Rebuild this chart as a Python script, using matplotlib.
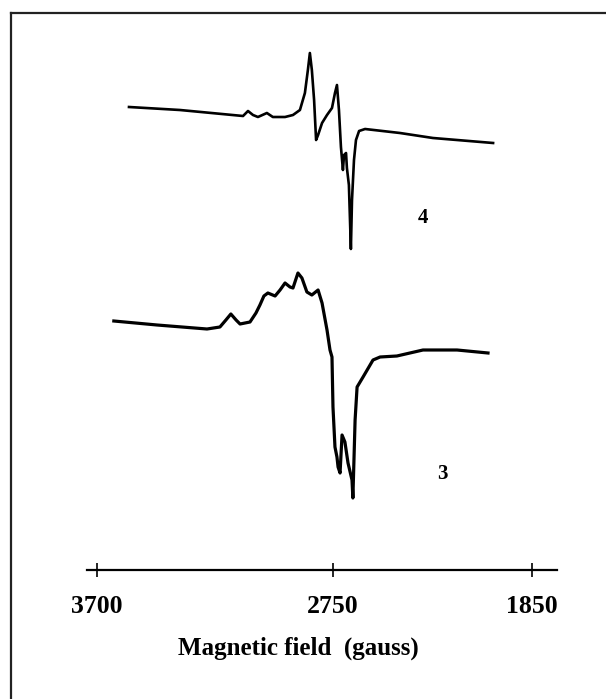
import numpy as np
import matplotlib
matplotlib.use("Agg")
import matplotlib.pyplot as plt
from matplotlib.lines import Line2D

# field ticks and their measured spacing on the (non-uniform) printed axis
tick_vals = [3700, 2750, 1850]
tick_pos = [0.0, 236.0, 435.0]

# sample 4 (upper trace), field in gauss, signal in arbitrary units
field_4 = [3571, 3366, 3112, 3092, 3072, 3052, 3016, 2992, 2943, 2911, 2883,
           2863, 2851, 2843, 2835, 2826, 2818, 2810, 2794, 2774, 2754, 2741,
           2732, 2723, 2714, 2705, 2700, 2691, 2687, 2678, 2669, 2664, 2655,
           2646, 2632, 2605, 2447, 2298, 2026]
signal_4 = [13, 10, 4, 9, 5, 3, 7, 3, 3, 5, 10,
            27, 50, 67, 50, 20, -20, -15, -3, 5, 12, 27,
            35, 10, -27, -50, -35, -33, -48, -65, -129, -80, -40,
            -20, -11, -9, -13, -18, -23]

# sample 3 (lower trace)
field_3 = [3632, 3458, 3257, 3205, 3181, 3161, 3140, 3124, 3084, 3060, 3044,
           3028, 3012, 2983, 2963, 2943, 2923, 2911, 2891, 2875, 2855, 2835,
           2810, 2794, 2774, 2762, 2754, 2750, 2741, 2732, 2727, 2718, 2709,
           2696, 2682, 2664, 2660, 2650, 2641, 2614, 2569, 2537, 2461, 2343,
           2189, 2049]
signal_3 = [9, 5, 1, 3, 10, 16, 10, 6, 8, 17, 25,
            34, 37, 34, 40, 47, 43, 42, 57, 52, 38, 35,
            40, 27, 0, -20, -27, -77, -117, -127, -137, -143, -105,
            -112, -133, -150, -168, -90, -57, -47, -30, -27, -26, -20,
            -20, -23]

offset_4 = 450
offset_3 = 240


def fwd(g):
    g = np.asarray(g, dtype=float)
    left = tick_pos[0] + (tick_vals[0] - g) * (tick_pos[1] - tick_pos[0]) / (tick_vals[0] - tick_vals[1])
    right = tick_pos[1] + (tick_vals[1] - g) * (tick_pos[2] - tick_pos[1]) / (tick_vals[1] - tick_vals[2])
    return -np.where(g >= tick_vals[1], left, right)


def inv(v):
    p = -np.asarray(v, dtype=float)
    left = tick_vals[0] - (p - tick_pos[0]) * (tick_vals[0] - tick_vals[1]) / (tick_pos[1] - tick_pos[0])
    right = tick_vals[1] - (p - tick_pos[1]) * (tick_vals[1] - tick_vals[2]) / (tick_pos[2] - tick_pos[1])
    return np.where(p <= tick_pos[1], left, right)


serif = ["Liberation Serif", "DejaVu Serif"]

fig = plt.figure(figsize=(6.06, 6.99), dpi=100)
ax = fig.add_axes([87 / 606, 129 / 699, 470 / 606, 530 / 699])
ax.set_xscale("function", functions=(fwd, inv))

ax.plot(field_4, np.array(signal_4) + offset_4, color="black", lw=1.9,
        solid_joinstyle="round")
ax.plot(field_3, np.array(signal_3) + offset_3, color="black", lw=2.3,
        solid_joinstyle="round")

ax.set_xlim(3740, 1737)
ax.set_ylim(0, 530)

ax.text(2343, 352, "4", family=serif, fontweight="bold", fontsize=15,
        ha="center", va="center")
ax.text(2257, 96, "3", family=serif, fontweight="bold", fontsize=15,
        ha="center", va="center")

for side in ["top", "left", "right"]:
    ax.spines[side].set_visible(False)
ax.spines["bottom"].set_linewidth(1.6)
ax.set_yticks([])
ax.set_xticks(tick_vals)
ax.set_xticklabels([str(t) for t in tick_vals], family=serif,
                   fontweight="bold", fontsize=18.5)
ax.tick_params(axis="x", direction="inout", length=10, width=1.2, pad=13)
ax.set_xlabel("Magnetic field  (gauss)", family=serif, fontweight="bold",
              fontsize=18)
ax.xaxis.set_label_coords(0.45, -0.125)

# frame around the picture (only top and left edges are visible)
fig.add_artist(Line2D([11 / 606, 11 / 606], [0, 1 - 13 / 699],
                      transform=fig.transFigure, color="#222222", lw=1.6))
fig.add_artist(Line2D([11 / 606, 1], [1 - 13 / 699, 1 - 13 / 699],
                      transform=fig.transFigure, color="#222222", lw=1.6))

fig.savefig("out.png", dpi=100)
